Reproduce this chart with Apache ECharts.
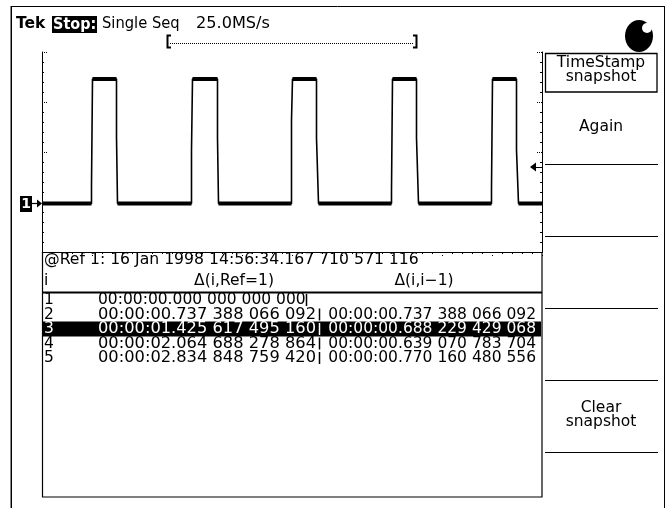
<!DOCTYPE html>
<html><head><meta charset="utf-8">
<script src="https://cdn.jsdelivr.net/npm/echarts@6.0.0/dist/echarts.min.js"></script>
<style>html,body{margin:0;padding:0;background:#fff}#c{width:665px;height:508px}</style>
</head><body><div id="c"></div>
<script>
// waveform vertices, in graticule divisions (x: 0..10, y: 0..4 above table)
const traceX = [0, 0.99, 0.99, 1.01, 1.01, 1.49, 1.49, 1.51, 1.51,
  2.99, 2.99, 3.01, 3.01, 3.51, 3.51, 3.53, 3.53,
  4.99, 4.99, 5.01, 5.01, 5.49, 5.49, 5.53, 5.53,
  6.99, 6.99, 7.01, 7.01, 7.49, 7.49, 7.53, 7.53,
  8.99, 8.99, 9.01, 9.01, 9.49, 9.49, 9.53, 9.53, 10];
const traceY = [0.97, 0.97, 1.34, 1.34, 3.46, 3.46, 2.30, 2.30, 0.97,
  0.97, 2.04, 2.04, 3.46, 3.46, 2.28, 2.28, 0.97,
  0.97, 2.64, 2.64, 3.46, 3.46, 2.28, 2.28, 0.97,
  0.97, 1.24, 1.24, 3.46, 3.46, 2.28, 2.28, 0.97,
  0.97, 1.28, 1.28, 3.46, 3.46, 2.04, 2.04, 0.97, 0.97];
const triggerLevel = 1.7;
const groundLevel = 0.97;

const headerTek = 'Tek';
const headerState = 'Stop:';
const headerMode = 'Single Seq';
const headerRate = '25.0MS/s';

const refStamp = '@Ref 1: 16 Jan 1998 14:56:34.167 710 571 116';
const colHeaders = ['i', '\u0394(i,Ref=1)', '\u0394(i,i\u22121)'];
const rowIndex = ['1', '2', '3', '4', '5'];
const deltaRef = ['00:00:00.000 000 000 000', '00:00:00.737 388 066 092', '00:00:01.425 617 495 160',
  '00:00:02.064 688 278 864', '00:00:02.834 848 759 420'];
const deltaPrev = ['', '00:00:00.737 388 066 092', '00:00:00.688 229 429 068',
  '00:00:00.639 070 783 704', '00:00:00.770 160 480 556'];
const highlightRow = 2;

const menuLabels = [['TimeStamp', 'snapshot'], ['Again'], [], [], [], ['Clear', 'snapshot'], []];

// ---------- build ----------
const traceData = traceX.map((x, i) => [x, traceY[i]]);
const levelData = [];
for (let i = 0; i < traceX.length - 1; i++) {
  if (traceY[i] === traceY[i + 1] && traceX[i + 1] - traceX[i] > 0.1) {
    levelData.push([traceX[i], traceY[i]], [traceX[i + 1], traceY[i + 1]], '-');
  }
}

const FONT = '"DejaVu Sans", sans-serif';
const G = [];
function txt(x, y, s, o) {
  o = o || {};
  const el = {type: 'text', x: x, y: y, z: 20, silent: true,
    style: {text: s, fill: o.fill || '#000', fontFamily: o.family || FONT, fontSize: o.size || 15.5,
      fontWeight: o.weight || 'normal', textAlign: o.align || 'left', textVerticalAlign: 'middle'}};
  if (o.scaleX) el.scaleX = o.scaleX;
  G.push(el);
}
function line(x1, y1, x2, y2, w, c) {
  G.push({type: 'line', z: 15, silent: true, shape: {x1: x1, y1: y1, x2: x2, y2: y2},
    style: {stroke: c || '#000', lineWidth: w || 1}});
}
function rect(x, y, w, h, o) {
  G.push({type: 'rect', z: o.z || 10, silent: true, shape: {x: x, y: y, width: w, height: h},
    style: {fill: o.fill || 'none', stroke: o.stroke || null, lineWidth: o.lw || 1}});
}

// outer frame
line(11.5, 6, 11.5, 508, 1, '#000');
line(10.5, 6, 10.5, 508, 1, '#888');
line(11, 6.5, 664, 6.5, 1);
line(664.5, 6, 664.5, 508, 1);

// header
txt(16, 24, headerTek, {weight: 'bold'});
rect(52, 16, 45, 17, {fill: '#000'});
txt(53, 24.5, headerState, {fill: '#fff', weight: 'bold', scaleX: 0.93});
txt(102, 24, headerMode, {scaleX: 0.95});
txt(196, 24, headerRate, {scaleX: 1.04});

// record bracket
G.push({type: 'polyline', z: 15, silent: true, shape: {points: [[171, 35.5], [167.5, 35.5], [167.5, 47.5], [171, 47.5]]}, style: {stroke: '#000', lineWidth: 2, fill: null}});
G.push({type: 'polyline', z: 15, silent: true, shape: {points: [[413, 35.5], [416.5, 35.5], [416.5, 47.5], [413, 47.5]]}, style: {stroke: '#000', lineWidth: 2, fill: null}});
G.push({type: 'line', z: 15, silent: true, shape: {x1: 170, y1: 43.5, x2: 414, y2: 43.5}, style: {stroke: '#000', lineWidth: 1, lineDash: [1, 1]}});

// knob
G.push({type: 'ellipse', z: 15, silent: true, shape: {cx: 639, cy: 36, rx: 14, ry: 16}, style: {fill: '#000'}});
G.push({type: 'circle', z: 16, silent: true, shape: {cx: 647, cy: 28, r: 5}, style: {fill: '#fff'}});

// ground marker & trigger arrow
rect(20, 196, 12, 16, {fill: '#000'});
txt(26, 204, '1', {fill: '#fff', align: 'center', size: 14, weight: 'bold'});
line(32, 203.5, 41, 203.5, 1.2);
G.push({type: 'polygon', z: 15, silent: true, shape: {points: [[37, 199.5], [42, 203.5], [37, 207.5]]}, style: {fill: '#000'}});
G.push({type: 'polygon', z: 15, silent: true, shape: {points: [[536, 162.5], [530, 167], [536, 171.5]]}, style: {fill: '#000'}});
line(535, 167.5, 542, 167.5, 1);

// table
rect(42.5, 252.5, 499.5, 244.5, {stroke: '#000', lw: 1.2});
line(42, 292.5, 542, 292.5, 2);
txt(44, 260, refStamp, {scaleX: 1.01});
txt(44, 281, colHeaders[0]);
txt(234, 281, colHeaders[1], {align: 'center'});
txt(424, 281, colHeaders[2], {align: 'center'});
const rowY = [300, 314.5, 329, 343.5, 358];
rect(43, rowY[highlightRow] - 7.5, 498, 15, {fill: '#000', z: 11});
rowIndex.forEach((r, i) => {
  const c = i === highlightRow ? '#fff' : '#000';
  const bx = i === 0 ? 306.5 : 319.5;
  txt(44, rowY[i], r, {fill: c});
  txt(98, rowY[i], deltaRef[i], {fill: c, scaleX: i === 0 ? 1.0 : 1.05});
  line(bx, rowY[i] - 6, bx, rowY[i] + 6, 1.5, c);
  if (deltaPrev[i]) txt(536, rowY[i], deltaPrev[i], {fill: c, align: 'right'});
});

// side menu
rect(545.5, 53.5, 111.5, 38.5, {stroke: '#000', lw: 1.3});
const sepY = [164, 236, 308, 380, 452];
sepY.forEach(y => line(545, y + 0.5, 658, y + 0.5, 1.2));
txt(601, 63, menuLabels[0][0], {align: 'center'});
txt(601, 77, menuLabels[0][1], {align: 'center'});
txt(601, 127, menuLabels[1][0], {align: 'center'});
txt(601, 408, menuLabels[5][0], {align: 'center'});
txt(601, 422, menuLabels[5][1], {align: 'center'});

const chart = echarts.init(document.getElementById('c'), null, {renderer: 'canvas'});
const tickStyle = {color: '#000', width: 1};
chart.setOption({
  animation: false,
  backgroundColor: '#fff',
  grid: {left: 42, top: 52, width: 500, height: 200, show: false},
  xAxis: {type: 'value', min: 0, max: 10, interval: 1, position: 'top',
    axisLine: {show: false},
    axisTick: {show: true, inside: true, length: 5, lineStyle: {color: '#000', width: 1, type: [1, 2]}},
    minorTick: {show: true, splitNumber: 5, length: 2, lineStyle: tickStyle},
    axisLabel: {show: false}, splitLine: {show: false}},
  yAxis: [
    {type: 'value', min: 0, max: 4, interval: 1, position: 'left',
      axisLine: {show: true, lineStyle: {color: '#000', width: 1}},
      axisTick: {show: true, inside: true, length: 6, lineStyle: {color: '#000', width: 1, type: [1, 1]}},
      minorTick: {show: true, splitNumber: 5, length: 2, lineStyle: tickStyle},
      axisLabel: {show: false}, splitLine: {show: false}},
    {type: 'value', min: 0, max: 4, interval: 1, position: 'right',
      axisLine: {show: true, lineStyle: {color: '#000', width: 1}},
      axisTick: {show: true, inside: true, length: 6, lineStyle: {color: '#000', width: 1, type: [1, 1]}},
      minorTick: {show: true, splitNumber: 5, length: 2, lineStyle: tickStyle},
      axisLabel: {show: false}, splitLine: {show: false}}
  ],
  series: [
    {type: 'line', data: traceData, symbol: 'none', lineStyle: {color: '#000', width: 1.6}, z: 5},
    {type: 'line', data: levelData, symbol: 'none', connectNulls: false, lineStyle: {color: '#000', width: 4}, z: 5}
  ],
  graphic: G
});
</script></body></html>
